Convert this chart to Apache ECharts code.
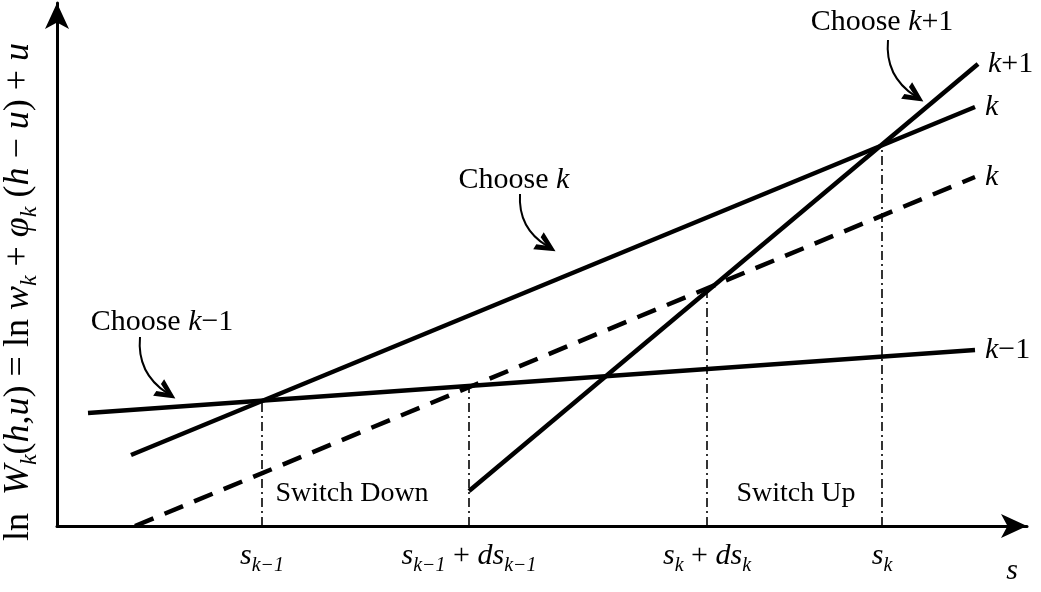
<!DOCTYPE html>
<html>
<head>
<meta charset="utf-8">
<script src="https://cdn.jsdelivr.net/npm/echarts@6/dist/echarts.min.js"></script>
<style>
  html, body { margin: 0; padding: 0; background: #fff; }
  #chart { width: 1041px; height: 592px; }
</style>
</head>
<body>
<div id="chart"></div>
<script>
// Switching thresholds along s, and the height at which each guide meets the curves
const sPoints = [205, 412, 650, 825];
const sLabels = [
  '{i|s}{sub|k−1}',
  '{i|s}{sub|k−1}{r| + }{i|ds}{sub|k−1}',
  '{i|s}{sub|k}{r| + }{i|ds}{sub|k}',
  '{i|s}{sub|k}'
];
const guideHeights = [125, 140, 236, 381];

// Value lines (start and end points in s / W units)
const lineKm1 = [[31, 113], [918, 176]];
const lineK = [[74, 71], [918, 419]];
const lineKp1 = [[412, 35], [921, 462]];
const lineKShift = [[78, 0], [918, 349]];
const endNames = ['{i|k}{r|−1}', '{i|k}', '{i|k}{r|+1}', '{i|k}'];

// Annotations: text anchors and the curved arrows below them
const notePos = [[105, 204], [457, 346], [825, 504]];
const noteText = ['{r|Choose }{i|k}{r|−1}', '{r|Choose }{i|k}', '{r|Choose }{i|k}{r|+1}'];
const arrowFrom = [[83, 189], [463, 332], [831, 486]];
const arrowTo = [[110, 133], [490, 280], [858, 430]];
const regionPos = [[295, 32], [739, 32]];
const regionText = ['Switch Down', 'Switch Up'];

const FONT = '"Liberation Serif", "DejaVu Serif", serif';
const rich = {
  r: { fontFamily: FONT, fontSize: 30, color: '#000' },
  i: { fontFamily: FONT, fontSize: 30, fontStyle: 'italic', color: '#000' },
  sub: { fontFamily: FONT, fontSize: 20, fontStyle: 'italic', color: '#000', verticalAlign: 'bottom', padding: [20, 0, 0, 0] }
};
const richY = {
  r: { fontFamily: FONT, fontSize: 36, color: '#000' },
  i: { fontFamily: FONT, fontSize: 36, fontStyle: 'italic', color: '#000' },
  sub: { fontFamily: FONT, fontSize: 24, fontStyle: 'italic', color: '#000', verticalAlign: 'bottom', padding: [22, 0, 0, 0] }
};

// Open arrowhead drawn as a filled chevron
const chevron = 'path://M0,100 L50,0 L100,100 L71,100 L50,52 L29,100 Z';

function valueLine(pts, name, dashed) {
  return {
    type: 'line',
    data: pts,
    showSymbol: false,
    symbol: 'none',
    clip: false,
    silent: true,
    lineStyle: { color: '#000', width: 4.5, type: dashed ? [20, 12] : 'solid', cap: 'butt' },
    endLabel: {
      show: true,
      formatter: name,
      distance: 10,
      rich: rich
    }
  };
}

const chart = echarts.init(document.getElementById('chart'));
chart.setOption({
  backgroundColor: '#fff',
  animation: false,
  grid: { left: 57, right: 14, top: 3, bottom: 66, containLabel: false, outerBoundsMode: 'none' },
  xAxis: {
    type: 'value', min: 0, max: 970,
    splitLine: { show: false },
    axisTick: { show: false },
    axisLine: { lineStyle: { color: '#000', width: 3 }, symbol: ['none', 'arrow'], symbolSize: [18, 26] },
    axisLabel: {
      customValues: sPoints,
      margin: 10,
      formatter: function (v) { return sLabels[sPoints.indexOf(v)] || ''; },
      rich: rich
    },
    name: '{i|s}',
    nameLocation: 'end',
    nameGap: -15,
    nameTextStyle: { rich: rich, align: 'center', verticalAlign: 'top', padding: [30, 0, 0, 0] }
  },
  yAxis: {
    type: 'value', min: 0, max: 523,
    splitLine: { show: false },
    axisTick: { show: false },
    axisLabel: { show: false },
    axisLine: { lineStyle: { color: '#000', width: 3 }, symbol: ['none', 'arrow'], symbolSize: [18, 26] },
    name: '{r|ln  }{i|W}{sub|k}{r|(}{i|h}{r|,}{i|u}{r|) = ln }{i|w}{sub|k}{r| + }{i|φ}{sub|k}{r| (}{i|h}{r| − }{i|u}{r|) + }{i|u}',
    nameLocation: 'middle',
    nameRotate: 90,
    nameGap: 15,
    nameTextStyle: { rich: richY, padding: [0, 55, 0, 0] }
  },
  series: [
    valueLine(lineKm1, endNames[0], false),
    valueLine(lineK, endNames[1], false),
    valueLine(lineKp1, endNames[2], false),
    valueLine(lineKShift, endNames[3], true),
    {
      type: 'lines',
      coordinateSystem: 'cartesian2d',
      silent: true,
      z: 1,
      lineStyle: { color: '#000', width: 1.6, type: [9, 4, 2, 4], opacity: 1 },
      data: sPoints.map(function (x, i) { return { coords: [[x, 0], [x, guideHeights[i]]] }; })
    },
    {
      type: 'lines',
      coordinateSystem: 'cartesian2d',
      silent: true,
      symbol: ['none', chevron],
      symbolSize: [25, 20],
      lineStyle: { color: '#000', width: 2, curveness: -0.3, opacity: 1 },
      data: arrowFrom.map(function (p, i) { return { coords: [p, arrowTo[i]] }; })
    },
    {
      type: 'scatter',
      silent: true,
      symbolSize: 0,
      itemStyle: { opacity: 1, color: 'transparent' },
      data: notePos,
      label: {
        show: true, position: 'inside', opacity: 1,
        formatter: function (p) { return noteText[p.dataIndex]; },
        rich: rich
      }
    },
    {
      type: 'scatter',
      silent: true,
      symbolSize: 0,
      itemStyle: { opacity: 1, color: 'transparent' },
      data: regionPos,
      label: {
        show: true, position: 'inside', opacity: 1,
        formatter: function (p) { return regionText[p.dataIndex]; },
        fontFamily: FONT, fontSize: 28, color: '#000'
      }
    }
  ]
});
</script>
</body>
</html>
